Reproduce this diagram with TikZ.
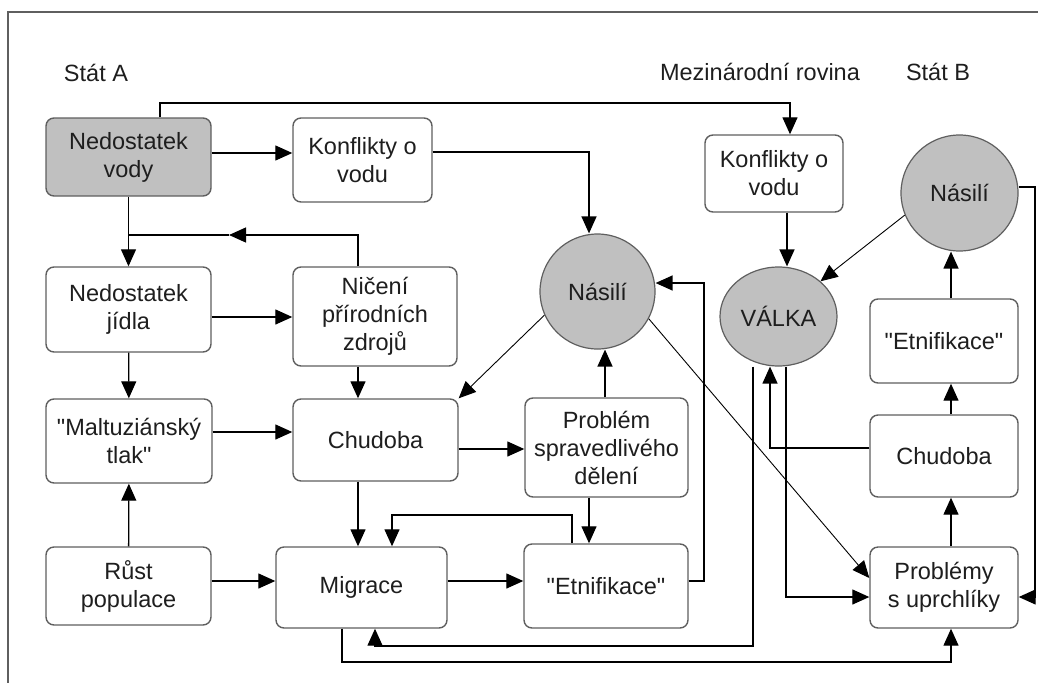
\documentclass[tikz,border=0pt]{standalone}
\usepackage{fontspec}
\setmainfont{Liberation Sans}
\usetikzlibrary{arrows.meta}
\usetikzlibrary{shapes}
\definecolor{FillGray}{RGB}{192,192,192}
\definecolor{LineGray}{RGB}{95,95,95}
\definecolor{InkGray}{RGB}{30,30,30}
\tikzstyle{BoxNode}=[rectangle, rounded corners=8pt, draw=LineGray, line width=1.4pt, fill=white, align=center, inner sep=0pt, text=InkGray, font=\fontsize{23.5}{28}\selectfont]
\tikzstyle{GrayBoxNode}=[BoxNode, fill=FillGray]
\tikzstyle{RoundNode}=[ellipse, draw=LineGray, line width=1.2pt, fill=FillGray, inner sep=0pt, text=InkGray, font=\fontsize{23.5}{28}\selectfont]
\tikzstyle{HeadLabel}=[text=InkGray, font=\fontsize{23.5}{28}\selectfont]
\tikzstyle{PlainLink}=[line width=1.3pt, black]
\tikzstyle{LinkEdge}=[PlainLink, ->]
\tikzstyle{ThinLinkEdge}=[LinkEdge, line width=0.9pt]
\tikzset{>={Triangle[length=17pt,width=15pt]}}
\newcommand{\qq}[1]{\textquotedbl#1\textquotedbl}

\begin{document}
\begin{tikzpicture}[x=1pt,y=-1pt]
\useasboundingbox (0,0) rectangle (1038,683);
\draw[line width=1.3pt, LineGray] (1038,12) -- (8,12) -- (8,683);

\node[HeadLabel](StatA) at (96,73) {Stát A};
\node[HeadLabel](Mezinar) at (760,72) {Mezinárodní rovina};
\node[HeadLabel](StatB) at (938,72) {Stát B};

\node[GrayBoxNode, minimum width=165, minimum height=78](NedVody) at (128.5,157) {Nedostatek\\vody};
\node[BoxNode, minimum width=139, minimum height=84](KonfA) at (362.5,160) {Konflikty o\\vodu};
\node[BoxNode, minimum width=165, minimum height=85](NedJidla) at (128.5,309.5) {Nedostatek\\jídla};
\node[BoxNode, minimum width=164, minimum height=99](Niceni) at (375,316.5) {Ničení\\přírodních\\zdrojů};
\node[BoxNode, minimum width=166, minimum height=84](Maltuz) at (129,441) {\qq{Maltuziánský\\tlak}};
\node[BoxNode, minimum width=165, minimum height=82](ChudobaA) at (375.5,440) {Chudoba};
\node[BoxNode, minimum width=165, minimum height=78](Rust) at (128.5,586) {Růst\\populace};
\node[BoxNode, minimum width=171, minimum height=81](Migrace) at (361.5,587.5) {Migrace};
\node[BoxNode, minimum width=163, minimum height=99](ProblemSprav) at (606.5,447.5) {Problém\\spravedlivého\\dělení};
\node[BoxNode, minimum width=164, minimum height=84](EtnA) at (606,586) {\qq{Etnifikace}};
\node[RoundNode, minimum width=115, minimum height=115](NasiliA) at (597.5,291.5) {Násilí};
\node[BoxNode, minimum width=138, minimum height=77](KonfB) at (774,173.5) {Konflikty o\\vodu};
\node[RoundNode, minimum width=117, minimum height=99](Valka) at (778.5,316.5) {VÁLKA};
\node[RoundNode, minimum width=117, minimum height=116](NasiliB) at (959.5,193) {Násilí};
\node[BoxNode, minimum width=148, minimum height=84](EtnB) at (944,341) {\qq{Etnifikace}};
\node[BoxNode, minimum width=148, minimum height=82](ChudobaB) at (944,456) {Chudoba};
\node[BoxNode, minimum width=148, minimum height=81](Problemy) at (944,587.5) {Problémy\\s uprchlíky};

\draw[LinkEdge](NedVody.east |- 0,153) -- (KonfA.west |- 0,153);
\draw[LinkEdge](NedVody.north -| 160,0) |- (790,103) -- (KonfB.north -| 790,0);
\draw[LinkEdge](KonfA.east |- 0,152) -| (NasiliA.north -| 589,0);
\draw[LinkEdge](NedVody) -- (NedJidla);
\draw[LinkEdge](Niceni.north -| 358,0) |- (229,235);
\draw[PlainLink](229,235) -- (128,235);
\draw[LinkEdge](NedJidla.east |- 0,317) -- (Niceni.west |- 0,317);
\draw[LinkEdge](NedJidla) -- (Maltuz);
\draw[LinkEdge](Niceni.south -| 358,0) -- (ChudobaA.north -| 358,0);
\draw[LinkEdge](Maltuz.east |- 0,432) -- (ChudobaA.west |- 0,432);
\draw[LinkEdge](Rust) -- (Maltuz);
\draw[LinkEdge](Rust.east |- 0,581) -- (Migrace.west |- 0,581);
\draw[LinkEdge](ChudobaA.south -| 358,0) -- (Migrace.north -| 358,0);
\draw[LinkEdge](ChudobaA.east |- 0,449) -- (ProblemSprav.west |- 0,449);
\draw[LinkEdge](ProblemSprav.south -| 589,0) -- (EtnA.north -| 589,0);
\draw[LinkEdge](EtnA.north -| 572,0) |- (392,515) -- (Migrace.north -| 392,0);
\draw[LinkEdge](Migrace.east |- 0,581) -- (EtnA.west |- 0,581);
\draw[LinkEdge](EtnA.east |- 0,581) -| (704,283) -- (NasiliA.east |- 0,283);
\draw[LinkEdge](ProblemSprav.north -| 605,0) -- (NasiliA.south -| 605,0);
\draw[ThinLinkEdge](NasiliA.204) -- (ChudobaA.north east);
\draw[ThinLinkEdge](NasiliA.332) -- (Problemy.west |- 0,578);
\draw[LinkEdge](Valka.south -| 786,0) |- (Problemy.west |- 0,597);
\draw[LinkEdge](Migrace.south -| 342,0) |- (951,662) -- (Problemy.south -| 951,0);
\draw[LinkEdge](Valka.south -| 753,0) |- (375,646) -- (Migrace.south -| 375,0);
\draw[LinkEdge](ChudobaB.west |- 0,448) -| (Valka.south -| 770,0);
\draw[LinkEdge](KonfB.south -| 787,0) -- (Valka.north -| 787,0);
\draw[ThinLinkEdge](NasiliB.202) -- (Valka.40);
\draw[LinkEdge](Problemy.north -| 951,0) -- (ChudobaB.south -| 951,0);
\draw[LinkEdge](ChudobaB.north -| 951,0) -- (EtnB.south -| 951,0);
\draw[LinkEdge](EtnB.north -| 951,0) -- (NasiliB.south -| 951,0);
\draw[LinkEdge](NasiliB.east |- 0,187) -| (1035,597) -- (Problemy.east |- 0,597);
\end{tikzpicture}
\end{document}
